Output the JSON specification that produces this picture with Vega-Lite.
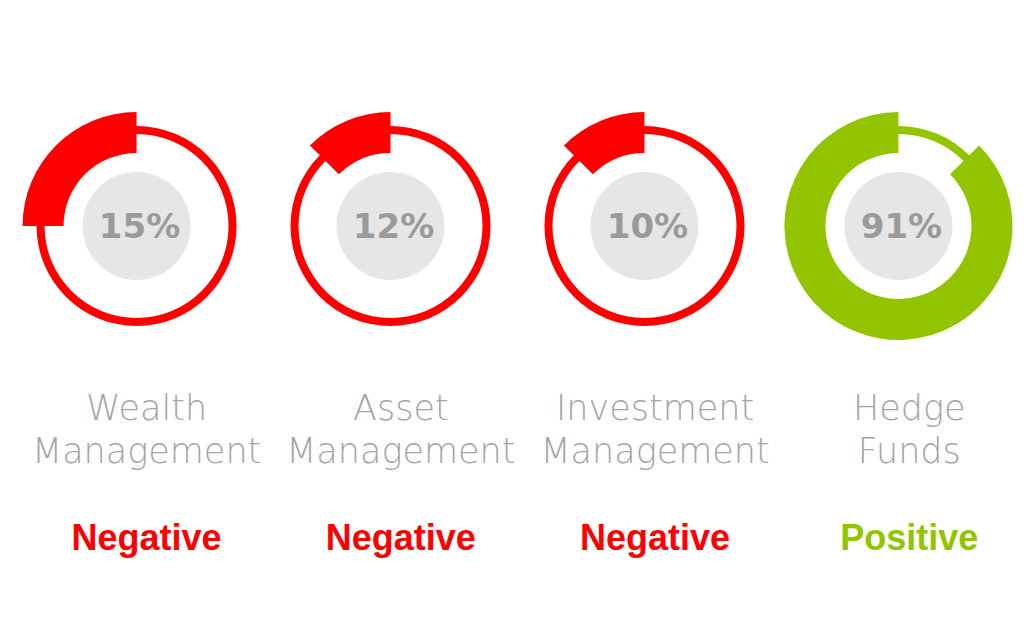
{
  "$schema": "https://vega.github.io/schema/vega-lite/v6.json",
  "width": 1024,
  "height": 619,
  "padding": 0,
  "autosize": {"type": "none"},
  "background": "white",
  "config": {"view": {"stroke": null}},
  "data": {
    "values": [
      {"name": "Wealth Management", "label": "Wealth\nManagement", "pct": "15%", "start": 75, "end": 100, "status": "Negative"},
      {"name": "Asset Management", "label": "Asset\nManagement", "pct": "12%", "start": 87.5, "end": 100, "status": "Negative"},
      {"name": "Investment Management", "label": "Investment\nManagement", "pct": "10%", "start": 87.5, "end": 100, "status": "Negative"},
      {"name": "Hedge Funds", "label": "Hedge\nFunds", "pct": "91%", "start": 12.5, "end": 100, "status": "Positive"}
    ]
  },
  "layer": [
    {
      "encoding": {
        "x": {"field": "name", "type": "nominal", "sort": null, "axis": null,
              "scale": {"type": "point", "padding": 0.516, "align": 0.521}},
        "y": {"datum": "ring", "type": "nominal", "axis": null,
              "scale": {"type": "point", "domain": ["t1", "t2", "t3", "ring", "s1", "s2", "name", "s3", "status"], "padding": 0.776, "align": 0.314}},
        "color": {"field": "status", "type": "nominal", "legend": null,
                  "scale": {"domain": ["Negative", "Positive"], "range": ["#ff0000", "#92c400"]}}
      },
      "layer": [
        {
          "mark": {"type": "arc", "radius": 100, "radius2": 92},
          "encoding": {
            "theta": {"datum": 0, "type": "quantitative", "scale": {"domain": [0, 100]}},
            "theta2": {"datum": 100}
          }
        },
        {
          "mark": {"type": "arc", "radius": 114, "radius2": 73},
          "encoding": {
            "theta": {"field": "start", "type": "quantitative", "scale": {"domain": [0, 100]}},
            "theta2": {"field": "end"}
          }
        },
        {
          "mark": {"type": "arc", "radius": 54, "radius2": 0},
          "encoding": {
            "theta": {"datum": 0, "type": "quantitative", "scale": {"domain": [0, 100]}},
            "theta2": {"datum": 100},
            "color": {"value": "#e6e6e6"}
          }
        },
        {
          "mark": {"type": "text", "font": "DejaVu Sans", "fontWeight": "bold", "fontSize": 34,
                   "baseline": "alphabetic", "align": "center", "dy": 12, "dx": 3},
          "encoding": {
            "text": {"field": "pct"},
            "color": {"value": "#9a9a9a"}
          }
        }
      ]
    },
    {
      "encoding": {
        "x": {"field": "name", "type": "nominal", "sort": null, "axis": null,
              "scale": {"type": "point", "padding": 0.514, "align": 0.561}}
      },
      "layer": [
        {
          "mark": {"type": "text", "font": "DejaVu Sans", "fontWeight": 200, "fontSize": 35,
                   "lineBreak": "\n", "lineHeight": 43, "baseline": "alphabetic", "align": "center", "color": "#a5a5a5"},
          "encoding": {
            "y": {"datum": "name", "type": "nominal", "axis": null,
                  "scale": {"type": "point", "domain": ["t1", "t2", "t3", "ring", "s1", "s2", "name", "s3", "status"], "padding": 0.776, "align": 0.314}},
            "text": {"field": "label"}
          }
        },
        {
          "mark": {"type": "text", "font": "Liberation Sans", "fontWeight": "bold", "fontSize": 36,
                   "baseline": "alphabetic", "align": "center"},
          "encoding": {
            "y": {"datum": "status", "type": "nominal", "axis": null,
                  "scale": {"type": "point", "domain": ["t1", "t2", "t3", "ring", "s1", "s2", "name", "s3", "status"], "padding": 0.776, "align": 0.314}},
            "text": {"field": "status"},
            "color": {"field": "status", "type": "nominal", "legend": null,
                      "scale": {"domain": ["Negative", "Positive"], "range": ["#ff0000", "#92c400"]}}
          }
        }
      ]
    }
  ],
  "resolve": {"scale": {"x": "independent"}}
}
